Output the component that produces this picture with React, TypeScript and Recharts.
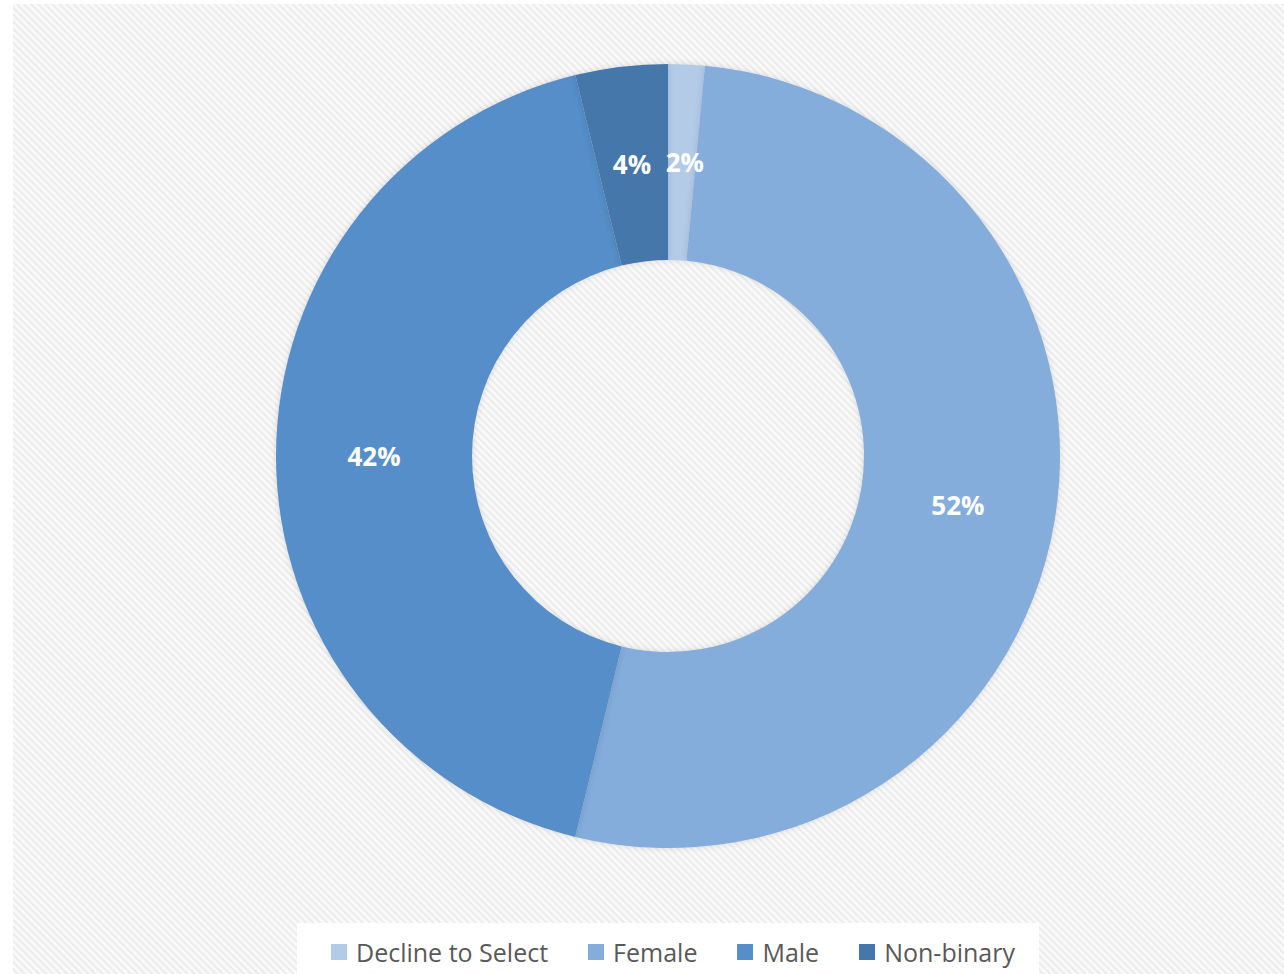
import React from 'react';
import { PieChart, Pie, Cell, Legend } from 'recharts';

const categories = ['Decline to Select', 'Female', 'Male', 'Non-binary'];
const shares = [1.5, 52.3, 42.4, 3.8];
const labels = ['2%', '52%', '42%', '4%'];
const colors = ['#b4cbe8', '#84addb', '#558ec8', '#4677aa'];

const data = categories.map((name, i) => ({ name, value: shares[i], label: labels[i] }));

const RADIAN = Math.PI / 180;

const renderLabel = (props: any) => {
  const { cx, cy, midAngle, innerRadius, outerRadius, index } = props;
  const r = (innerRadius + outerRadius) / 2;
  let x = cx + r * Math.cos(-midAngle * RADIAN);
  const y = cy + r * Math.sin(-midAngle * RADIAN);
  // small slices at the top: nudge labels apart a bit like the original
  if (index === 0) x += 3;
  if (index === 3) x -= 1;
  return (
    <text
      x={x}
      y={y}
      fill="#ffffff"
      textAnchor="middle"
      dominantBaseline="central"
      fontFamily="'Open Sans', sans-serif"
      fontWeight={700}
      fontSize={26}
    >
      {labels[index]}
    </text>
  );
};

const LegendBox = () => (
  <div style={{ display: 'flex', justifyContent: 'center' }}>
    <div
      style={{
        background: '#ffffff',
        height: 51,
        boxSizing: 'border-box',
        padding: '6px 24px 0 34px',
        display: 'flex',
        alignItems: 'center',
        gap: 40,
        fontFamily: "'Open Sans', sans-serif",
        fontSize: 25,
        color: '#595959',
      }}
    >
      {categories.map((c, i) => (
        <div key={c} style={{ display: 'flex', alignItems: 'center', gap: 9 }}>
          <span style={{ width: 16, height: 16, background: colors[i], display: 'inline-block' }} />
          <span>{c}</span>
        </div>
      ))}
    </div>
  </div>
);

export default function App() {
  return (
    <div style={{ position: 'absolute', left: 0, top: 0, width: 1284, height: 974, background: '#ffffff' }}>
      <style>{`.recharts-pie-sector path { filter: drop-shadow(0 0 3px rgba(0,0,0,0.12)); }`}</style>
      <div
        style={{
          position: 'absolute',
          left: 13,
          top: 4,
          width: 1271,
          height: 970,
          background:
            'repeating-linear-gradient(45deg, #f9f9f9 0px, #f9f9f9 2px, #ececec 3px, #ececec 4px, #f9f9f9 5px)',
        }}
      />
      <div style={{ position: 'absolute', left: 0, top: 0 }}>
        <PieChart width={1284} height={974} margin={{ top: 0, right: 0, bottom: 0, left: 0 }}>
          <Pie
            data={data}
            dataKey="value"
            nameKey="name"
            cx={668}
            cy={456}
            innerRadius={196}
            outerRadius={392}
            startAngle={90}
            endAngle={-270}
            stroke="none"
            label={renderLabel}
            labelLine={false}
            isAnimationActive={false}
          >
            {data.map((d, i) => (
              <Cell key={d.name} fill={colors[i]} />
            ))}
          </Pie>
          <Legend
            content={<LegendBox />}
            wrapperStyle={{ position: 'absolute', left: 26, top: 923, width: 1284, height: 51 }}
          />
        </PieChart>
      </div>
    </div>
  );
}
